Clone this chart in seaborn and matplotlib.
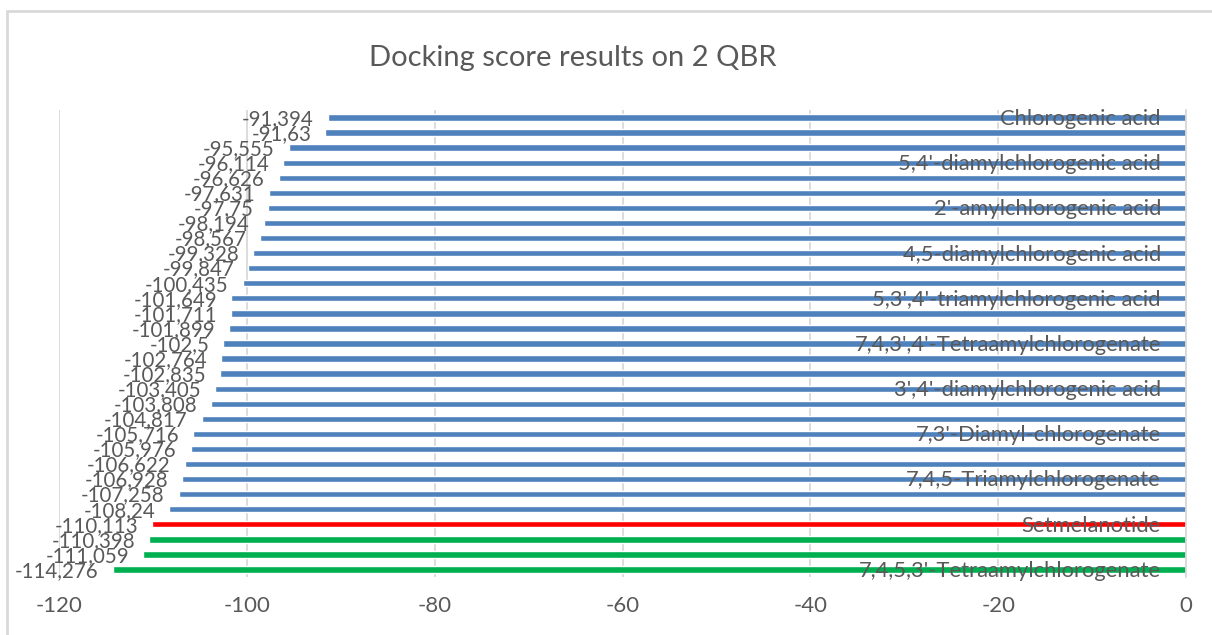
import pandas as pd
import seaborn as sns
import matplotlib.pyplot as plt
from matplotlib.patches import Rectangle

# Docking scores, top bar first
scores = [-91.394, -91.63, -95.555, -96.114, -96.626, -97.631, -97.75, -98.194,
          -98.567, -99.328, -99.847, -100.435, -101.649, -101.711, -101.899, -102.5,
          -102.764, -102.835, -103.405, -103.808, -104.817, -105.716, -105.976,
          -106.622, -106.928, -107.258, -108.24, -110.113, -110.398, -111.059, -114.276]

# only every third category name is printed on the chart
names = ["Chlorogenic acid", "", "",
         "5,4'-diamylchlorogenic acid", "", "",
         "2'-amylchlorogenic acid", "", "",
         "4,5-diamylchlorogenic acid", "", "",
         "5,3',4'-triamylchlorogenic acid", "", "",
         "7,4,3',4'-Tetraamylchlorogenate", "", "",
         "3',4'-diamylchlorogenic acid", "", "",
         "7,3'-Diamyl-chlorogenate", "", "",
         "7,4,5-Triamylchlorogenate", "", "",
         "Setmelanotide", "", "",
         "7,4,5,3'-Tetraamylchlorogenate"]

groups = ["ref"] * 27 + ["control"] + ["best"] * 3
x_ticks = [-120, -100, -80, -60, -40, -20, 0]

colors = {"ref": "#4F81BD", "control": "#FF0000", "best": "#00B050"}
text_col = "#595959"
grid_col = "#D9D9D9"

df = pd.DataFrame({"pos": [str(i) for i in range(len(scores))],
                   "score": scores, "group": groups})

sns.set_style("white")
plt.rcParams["font.family"] = ["Lato", "DejaVu Sans"]

fig = plt.figure(figsize=(12.12, 6.35), dpi=100)
ax = fig.add_axes([59 / 1212, 1 - 577 / 635, (1186 - 59) / 1212, (577 - 110) / 635])

sns.barplot(data=df, x="score", y="pos", hue="group", palette=colors,
            width=0.42, legend=False, ax=ax, saturation=1)

ax.set_xlim(-120, 0)
ax.set_xticks(x_ticks)
ax.set_xticklabels([str(t) for t in x_ticks], color=text_col, fontsize=16)
ax.set_xlabel("")
ax.set_ylabel("")
ax.grid(axis="x", color=grid_col, linewidth=1.3)
ax.set_axisbelow(True)

for s in ["top", "right", "bottom"]:
    ax.spines[s].set_visible(False)
ax.spines["left"].set_position(("data", 0))
ax.spines["left"].set_color(grid_col)
ax.spines["left"].set_linewidth(1.3)

ax.set_yticks(range(len(names)))
ax.set_yticklabels([])
ax.tick_params(axis="y", length=0)
ax.tick_params(axis="x", length=0, pad=14)

# category names sit over the bars, next to the zero axis
for i, n in enumerate(names):
    if n:
        ax.annotate(n, (0, i), xytext=(-18, -1), textcoords="offset points",
                    ha="right", va="center", color=text_col, fontsize=15.8,
                    zorder=5)

# value labels at the outer end of each bar
for i, v in enumerate(scores):
    ax.annotate(f"{v:g}".replace(".", ","), (v, i), xytext=(-10, -1),
                textcoords="offset points", ha="right", va="center",
                color=text_col, fontsize=14.8, zorder=5)

fig.text(573 / 1212, 1 - 58 / 635, "Docking score results on 2 QBR",
         ha="center", va="center", fontsize=21, color=text_col)

# chart border
fig.patches.append(Rectangle((7 / 1212, -0.1), 1.2, 1.1 - 11 / 635,
                             transform=fig.transFigure, fill=False,
                             edgecolor=grid_col, linewidth=2))

fig.savefig("out.png", dpi=100)
